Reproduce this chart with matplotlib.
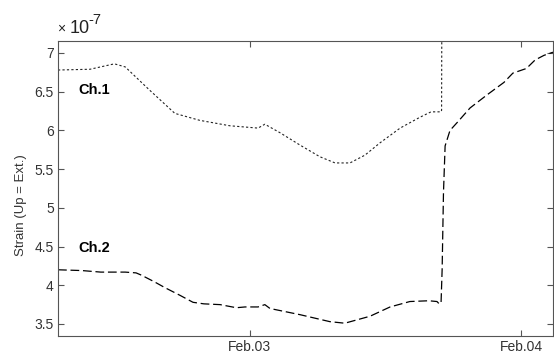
import datetime as dt
import matplotlib
matplotlib.use("Agg")
import matplotlib.pyplot as plt
import matplotlib.dates as mdates
from matplotlib.ticker import FuncFormatter

plt.rcParams['font.family'] = ['Liberation Sans', 'DejaVu Sans']

# time in days relative to Feb.03 00:00, strain in units of 1e-7
ch1_t = [-0.708, -0.59, -0.50, -0.46, -0.37, -0.277, -0.185, -0.074, 0.030,
         0.055, 0.111, 0.185, 0.258, 0.314, 0.369, 0.424, 0.480, 0.554,
         0.627, 0.668, 0.705, 0.707, 0.708]
ch1_v = [6.78, 6.79, 6.86, 6.82, 6.52, 6.22, 6.13, 6.06, 6.03,
         6.08, 5.97, 5.81, 5.66, 5.58, 5.58, 5.68, 5.84, 6.03,
         6.17, 6.24, 6.24, 6.26, 7.60]

ch2_t = [-0.708, -0.62, -0.55, -0.46, -0.42, -0.40, -0.35, -0.314, -0.258,
         -0.21, -0.17, -0.11, -0.05, -0.018, 0.03, 0.055, 0.074, 0.185,
         0.295, 0.35, 0.443, 0.517, 0.590, 0.66, 0.690, 0.698, 0.705,
         0.709, 0.714, 0.720, 0.738, 0.764, 0.812, 0.875, 0.937, 0.970,
         1.02, 1.052, 1.085, 1.118]
ch2_v = [4.20, 4.19, 4.17, 4.17, 4.16, 4.13, 4.04, 3.97, 3.87,
         3.78, 3.76, 3.75, 3.71, 3.72, 3.72, 3.75, 3.70, 3.62,
         3.53, 3.51, 3.60, 3.72, 3.79, 3.80, 3.79, 3.76, 3.77,
         4.20, 5.20, 5.80, 6.00, 6.10, 6.29, 6.46, 6.62, 6.74,
         6.80, 6.91, 6.97, 7.01]

base = dt.datetime(2010, 2, 3)
ch1_x = [base + dt.timedelta(days=d) for d in ch1_t]
ch2_x = [base + dt.timedelta(days=d) for d in ch2_t]

fig = plt.figure(figsize=(5.54, 3.58), dpi=100)
ax = fig.add_axes([0.1047, 0.0615, 0.8935, 0.824])

ax.plot(ch1_x, ch1_v, color='#222222', lw=0.8, linestyle=(0, (2, 2)))
ax.plot(ch2_x, ch2_v, color='black', lw=0.9, linestyle=(0, (7, 3)))

ax.set_xlim(base + dt.timedelta(days=-0.708), base + dt.timedelta(days=1.118))
ax.set_ylim(3.345, 7.155)
ax.set_yticks([3.5, 4, 4.5, 5, 5.5, 6, 6.5, 7])
ax.yaxis.set_major_formatter(FuncFormatter(lambda v, p: '%g' % v))
ax.xaxis.set_major_locator(mdates.DayLocator())
ax.xaxis.set_major_formatter(mdates.DateFormatter('%b.%d'))

grey = '#555555'
for s in ax.spines.values():
    s.set_color(grey)
    s.set_linewidth(0.8)
ax.tick_params(direction='in', top=True, right=True, length=4.5, width=0.8,
               color=grey, labelcolor='#333333', labelsize=10, pad=3)

ax.set_ylabel('Strain (Up = Ext.)', fontsize=9.5, color='#333333')
ax.yaxis.set_label_coords(-0.063, 0.445)

ax.text(0.042, 0.82, 'Ch.1', transform=ax.transAxes, fontsize=10.5,
        fontweight='bold', color='black')
ax.text(0.042, 0.285, 'Ch.2', transform=ax.transAxes, fontsize=10.5,
        fontweight='bold', color='black')

# exponent label above the y axis
fig.text(57 / 554, 1 - 33 / 358, '\u00d7', fontsize=10, color='#222222', va='baseline')
fig.text(70 / 554, 1 - 33 / 358, '10', fontsize=13, color='#222222', va='baseline')
fig.text(88 / 554, 1 - 24 / 358, '-7', fontsize=10.5, color='#222222', va='baseline')

fig.savefig('out.png', dpi=100)
